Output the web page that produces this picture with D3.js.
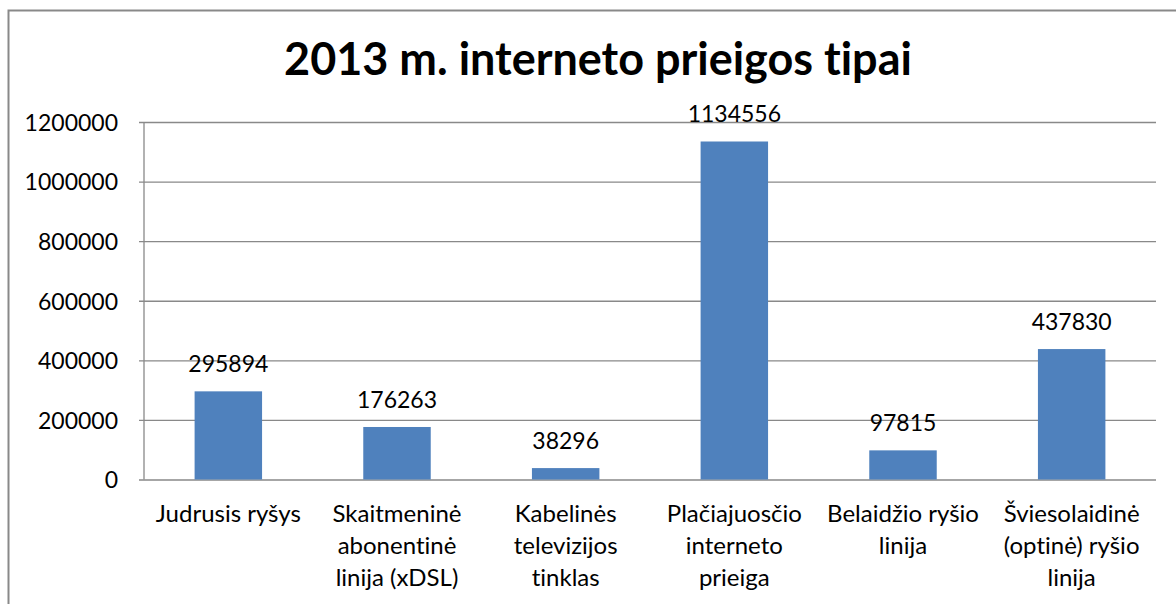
<!DOCTYPE html>
<html>
<head>
<meta charset="utf-8">
<script src="https://cdn.jsdelivr.net/npm/d3@7"></script>
<style>
  html, body { margin: 0; padding: 0; background: #fff; }
  svg { display: block; }
  text { font-family: Lato, "Open Sans", sans-serif; fill: #000; font-variant-ligatures: none; }
</style>
</head>
<body>
<div id="chart"></div>
<script>
// data
var title = '2013 m. interneto prieigos tipai'
var categories = [
  ['Judrusis ryšys'],
  ['Skaitmeninė', 'abonentinė', 'linija (xDSL)'],
  ['Kabelinės', 'televizijos', 'tinklas'],
  ['Plačiajuosčio', 'interneto', 'prieiga'],
  ['Belaidžio ryšio', 'linija'],
  ['Šviesolaidinė', '(optinė) ryšio', 'linija']
]
var values = [295894, 176263, 38296, 1134556, 97815, 437830]
var yTicks = [0, 200000, 400000, 600000, 800000, 1000000, 1200000]

var W = 1176, H = 604
var plot = {left: 144, right: 1156, top: 122, bottom: 479.5}
var gray = '#898989'

var svg = d3.select('#chart').append('svg')
  .attr('width', W)
  .attr('height', H)

// outer chart border
svg.append('rect')
  .attr('x', 8.5).attr('y', 10.5)
  .attr('width', W + 20).attr('height', H + 20)
  .attr('fill', 'none')
  .attr('stroke', gray)
  .attr('stroke-width', 2)

var x = d3.scaleBand()
  .domain(d3.range(values.length))
  .range([plot.left, plot.right])
  .paddingInner(0.6)
  .paddingOuter(0.3)

var y = d3.scaleLinear()
  .domain([0, 1200000])
  .range([plot.bottom, plot.top])

// gridlines + value axis
var yAxis = d3.axisLeft(y)
  .tickValues(yTicks)
  .tickSize(5)
  .tickFormat(d3.format('d'))

var gy = svg.append('g')
  .attr('transform', `translate(${plot.left},0)`)
  .call(yAxis)

gy.select('.domain').remove()
gy.selectAll('.tick line')
  .attr('x1', -5)
  .attr('x2', plot.right - plot.left)
  .attr('stroke', gray)
  .attr('stroke-width', 1.3)
gy.selectAll('.tick text')
  .attr('x', -26)
  .attr('dy', '0.36em')
  .style('font-size', '23px')
  .style('font-family', 'Lato, sans-serif')
  .attr('fill', '#000')

svg.append('line')
  .attr('x1', plot.left).attr('x2', plot.left)
  .attr('y1', plot.top).attr('y2', plot.bottom)
  .attr('stroke', gray)
  .attr('stroke-width', 1.3)

// bars
svg.append('g').selectAll('rect')
  .data(values)
  .join('rect')
  .attr('x', (d, i) => x(i))
  .attr('width', x.bandwidth())
  .attr('y', d => y(d))
  .attr('height', d => y(0) - y(d))
  .attr('fill', '#4F81BD')

// data labels
svg.append('g').selectAll('text')
  .data(values)
  .join('text')
  .attr('x', (d, i) => x(i) + x.bandwidth() / 2)
  .attr('y', d => y(d) - 19)
  .attr('text-anchor', 'middle')
  .style('font-size', '23px')
  .text(d => d)

// category labels
var cat = svg.append('g').selectAll('text')
  .data(categories)
  .join('text')
  .attr('text-anchor', 'middle')
  .style('font-size', '24px')

cat.selectAll('tspan')
  .data((d, i) => d.map(t => ({t: t, i: i})))
  .join('tspan')
  .attr('x', d => x(d.i) + x.bandwidth() / 2)
  .attr('y', (d, j) => 522 + j * 32)
  .text(d => d.t)

// title, fitted to the reference width
var t = svg.append('text')
  .attr('x', (284 + 912) / 2)
  .attr('y', 75)
  .attr('text-anchor', 'middle')
  .style('font-size', '40px')
  .style('font-weight', 'bold')
  .text(title)
var tw = t.node().getComputedTextLength()
t.style('font-size', (40 * 628 / tw) + 'px')
</script>
</body>
</html>
